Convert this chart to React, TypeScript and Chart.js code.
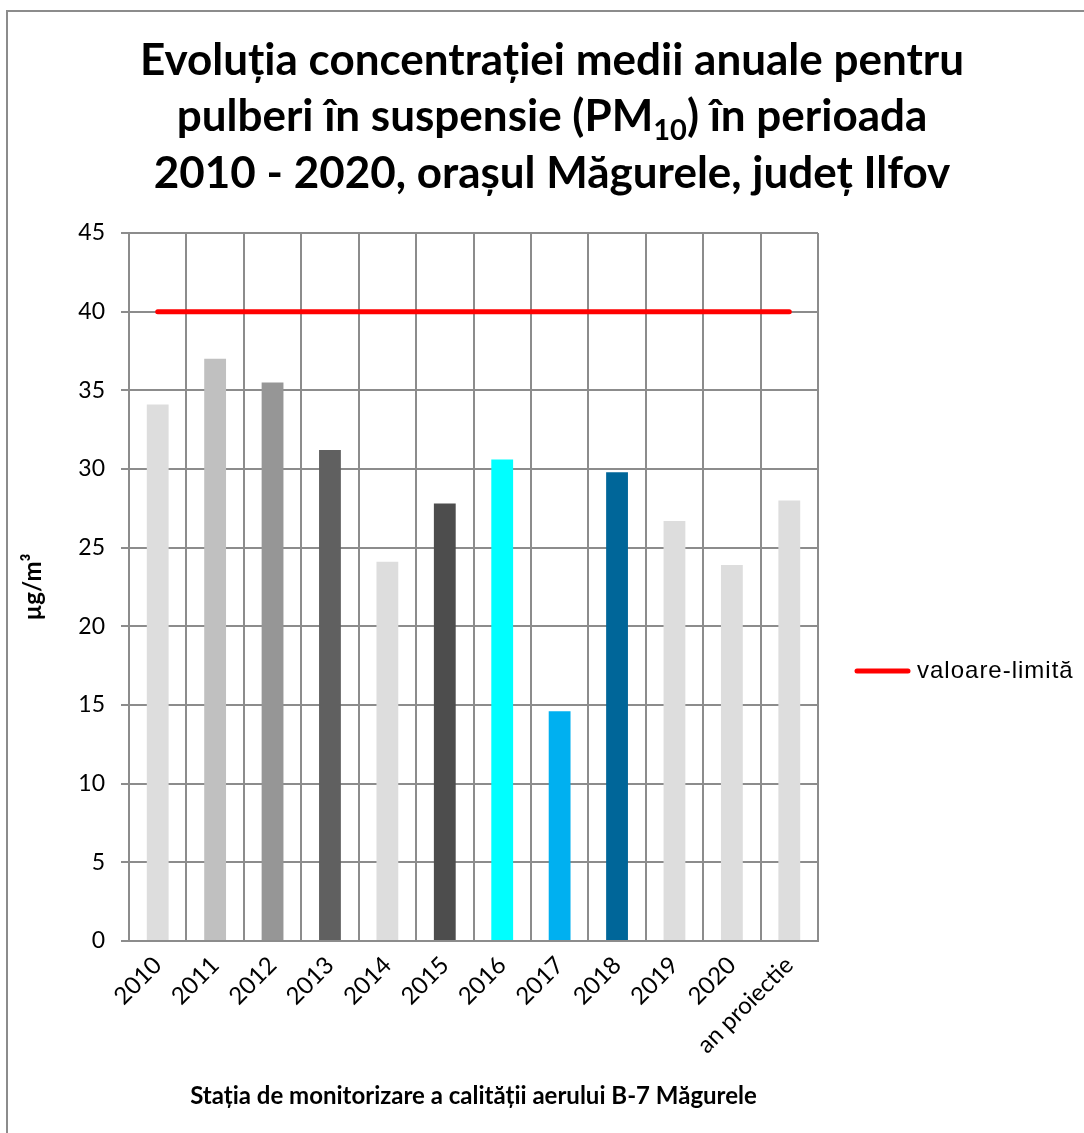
import React, { useEffect, useRef } from "react";
import { Chart, registerables } from "chart.js";

Chart.register(...registerables);

// ---- data ----
const categories = ["2010", "2011", "2012", "2013", "2014", "2015", "2016", "2017", "2018", "2019", "2020", "an proiectie"];
const concentrations = [34.1, 37.0, 35.5, 31.2, 24.1, 27.8, 30.6, 14.6, 29.8, 26.7, 23.9, 28.0];
const limitValues = [40, 40, 40, 40, 40, 40, 40, 40, 40, 40, 40, 40];
const barColors = ["#dddddd", "#c0c0c0", "#969696", "#606060", "#dddddd", "#4d4d4d", "#00ffff", "#00b0f0", "#006699", "#dddddd", "#dddddd", "#dddddd"];
const yMin = 0;
const yMax = 45;
const yStep = 5;
const titleLine1 = "Evoluția concentrației medii anuale pentru";
const titleLine2 = ["pulberi în suspensie (PM", "10", ") în perioada"];
const titleLine3 = "2010 - 2020, orașul Măgurele, județ Ilfov";
const legendLabel = "valoare-limită";
const xAxisTitle = "Stația de monitorizare a calității aerului B-7 Măgurele";
const yAxisTitle = "µg/m³";

const GRID = "#8c8c8c";

const titlePlugin = {
  id: "customTitle",
  afterDraw(chart: any) {
    const ctx = chart.ctx as CanvasRenderingContext2D;
    const cx = 552;
    const mainFont = "bold 44px Lato";
    const subFont = "bold 29px Lato";
    ctx.save();
    ctx.fillStyle = "#000";
    ctx.textBaseline = "alphabetic";
    ctx.textAlign = "left";
    ctx.font = mainFont;
    let w = ctx.measureText(titleLine1).width;
    ctx.fillText(titleLine1, cx - w / 2, 75);
    const w0 = ctx.measureText(titleLine2[0]).width;
    const w2 = ctx.measureText(titleLine2[2]).width;
    ctx.font = subFont;
    const w1 = ctx.measureText(titleLine2[1]).width;
    const total = w0 + w1 + w2;
    let x = cx - total / 2;
    ctx.font = mainFont;
    ctx.fillText(titleLine2[0], x, 131);
    x += w0;
    ctx.font = subFont;
    ctx.fillText(titleLine2[1], x, 140);
    x += w1;
    ctx.font = mainFont;
    ctx.fillText(titleLine2[2], x, 131);
    w = ctx.measureText(titleLine3).width;
    ctx.fillText(titleLine3, cx - w / 2, 188);
    ctx.restore();
  },
};

const legendPlugin = {
  id: "customLegend",
  afterDraw(chart: any) {
    const ctx = chart.ctx as CanvasRenderingContext2D;
    const ds = chart.data.datasets[0];
    const y = 671;
    ctx.save();
    ctx.strokeStyle = ds.borderColor;
    ctx.lineWidth = 5;
    ctx.lineCap = "round";
    ctx.beginPath();
    ctx.moveTo(857, y);
    ctx.lineTo(908, y);
    ctx.stroke();
    ctx.fillStyle = "#000";
    ctx.font = "24px 'Liberation Sans'";
    (ctx as any).letterSpacing = "1px";
    ctx.textBaseline = "middle";
    ctx.textAlign = "left";
    ctx.fillText(ds.label, 917, y);
    ctx.restore();
  },
};

export default function App() {
  const canvasRef = useRef<HTMLCanvasElement | null>(null);

  useEffect(() => {
    if (!canvasRef.current) return;
    const chart = new Chart(canvasRef.current, {
      type: "bar",
      data: {
        labels: categories,
        datasets: [
          {
            type: "line",
            label: legendLabel,
            data: limitValues,
            borderColor: "#ff0000",
            backgroundColor: "#ff0000",
            borderWidth: 5,
            borderCapStyle: "round",
            pointRadius: 0,
            pointHoverRadius: 0,
            fill: false,
            order: 0,
          } as any,
          {
            type: "bar",
            label: "PM10",
            data: concentrations,
            backgroundColor: barColors,
            borderWidth: 0,
            barPercentage: 0.38,
            categoryPercentage: 1,
            order: 1,
          } as any,
        ],
      },
      options: {
        responsive: true,
        maintainAspectRatio: false,
        animation: false,
        layout: { padding: { top: 233, left: 15, right: 266, bottom: 0 } },
        plugins: {
          legend: { display: false },
          title: { display: false },
          tooltip: { enabled: false },
        },
        scales: {
          x: {
            grid: { color: GRID, lineWidth: 2, offset: true, drawTicks: false },
            border: { color: GRID, width: 2 },
            ticks: {
              color: "#000",
              font: { family: "Lato", size: 24 },
              minRotation: 45,
              maxRotation: 45,
              padding: 10,
              autoSkip: false,
            },
            title: {
              display: true,
              text: xAxisTitle,
              color: "#000",
              font: { family: "Lato", size: 24, weight: "bold" },
              padding: { top: 0, bottom: 22 },
            },
            afterFit: (s: any) => {
              s.height = 192;
            },
          } as any,
          y: {
            min: yMin,
            max: yMax,
            ticks: {
              stepSize: yStep,
              color: "#000",
              font: { family: "Lato", size: 23 },
              padding: 16,
            },
            grid: { color: GRID, lineWidth: 2, tickLength: 8 },
            border: { color: GRID, width: 2 },
            title: {
              display: true,
              text: yAxisTitle,
              color: "#000",
              font: { family: "Lato", size: 24, weight: "bold" },
              padding: { top: 4, bottom: 0 },
            },
            afterFit: (s: any) => {
              s.width = 114;
            },
          } as any,
        },
      },
      plugins: [titlePlugin, legendPlugin],
    });
    return () => chart.destroy();
  }, []);

  return (
    <>
      <div
        style={{
          position: "absolute",
          left: 6,
          top: 10,
          width: 1078,
          height: 1123,
          borderLeft: "2px solid #8c8c8c",
          borderTop: "2px solid #8c8c8c",
          boxSizing: "border-box",
        }}
      />
      <div style={{ position: "absolute", left: 0, top: 0, width: 1084, height: 1133 }}>
        <canvas ref={canvasRef} />
      </div>
    </>
  );
}
